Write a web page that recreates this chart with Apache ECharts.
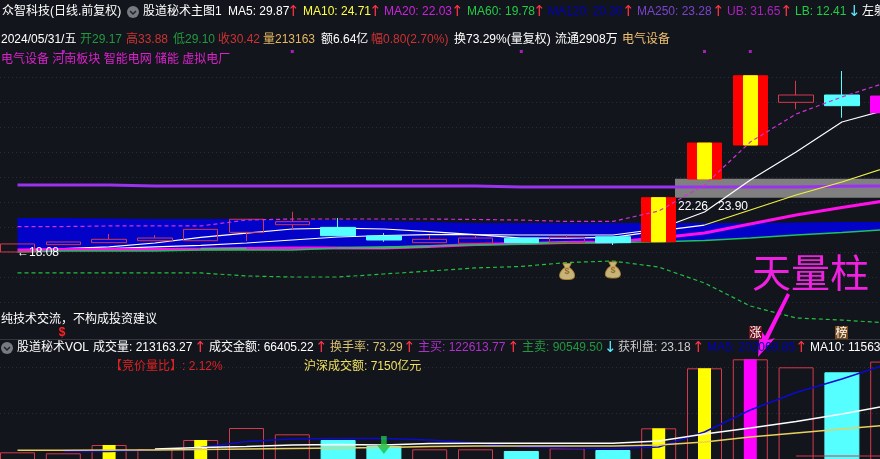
<!DOCTYPE html>
<html><head><meta charset="utf-8">
<style>html,body{margin:0;padding:0;background:#13151d;overflow:hidden}#c{width:880px;height:459px}</style>
<script src="https://cdn.jsdelivr.net/npm/echarts@6/dist/echarts.min.js"></script>
</head><body><div id="c"></div>
<script>
const categories=['05/06','05/07','05/08','05/09','05/10','05/13','05/14','05/15','05/16','05/17','05/20','05/21','05/22','05/23','05/24','05/27','05/28','05/29','05/30','05/31'];
const opens =[17.59,18.22,18.39,18.56,18.56,19.28,19.94,19.71,18.97,18.39,18.34,18.77,18.39,18.90,18.47,23.88,26.81,30.49,31.12,29.59];
const closes=[18.28,18.45,18.68,18.79,19.54,20.41,20.20,18.99,18.62,18.68,18.79,18.39,18.85,18.39,22.27,26.98,32.78,31.12,30.20,31.03];
const lows  =[17.59,18.22,18.39,18.56,18.56,18.53,19.54,18.99,18.47,18.39,18.34,18.39,18.39,18.19,18.47,23.88,26.81,29.89,29.16,29.59];
const highs =[18.28,18.45,19.14,19.05,19.54,20.41,21.06,20.52,19.22,19.05,19.05,18.77,19.05,18.90,22.27,26.98,32.78,32.35,33.19,31.03];
const limitUpDays=[14,15,16];
const bandHigh=[20.52,20.52,20.47,20.43,20.43,20.43,20.34,20.34,20.26,20.17,20.09,20.09,20.09,20.09,20.09,20.09,20.09,20.13,20.17,20.17];
const bandLow =[17.59,17.67,17.67,17.67,17.76,17.76,17.76,17.93,18.02,18.10,18.19,18.28,18.36,18.40,18.47,18.58,18.79,19.05,19.27,19.53];
const ma250=[23.36,23.36,23.36,23.28,23.28,23.28,23.28,23.28,23.28,23.28,23.28,23.19,23.19,23.19,23.19,23.19,23.19,23.19,23.25,23.28];
const ma5=[null,17.89,18.02,18.36,18.84,19.22,19.57,19.65,19.57,19.35,19.09,19.05,19.05,19.05,19.57,21.03,23.79,26.21,28.79,29.87];
const ma10=[null,null,17.89,18.02,18.15,18.36,18.62,18.88,19.01,19.09,19.09,18.79,18.79,18.84,19.40,19.91,null,null,null,null];
const ma10Up=[null,null,null,null,null,null,null,null,null,null,null,null,null,null,null,19.91,21.21,22.50,23.62,24.91];
const ma20=[17.76,17.80,17.80,17.80,17.84,17.89,17.93,17.93,17.93,18.06,18.23,18.32,18.40,18.45,18.80,19.22,20.00,20.77,21.42,22.03];
const ma20Flat=[null,null,null,null,17.84,17.89,null,17.93,17.93,18.06,null,18.32,18.40,null,null,null,null,null,null,null];
const ub=[19.78,19.78,19.83,19.83,19.83,20.34,20.43,20.43,20.43,20.43,20.39,20.34,20.22,20.22,21.12,23.36,27.07,29.48,30.95,32.24];
const lb=[15.78,15.78,15.78,15.78,15.78,15.52,15.43,15.43,15.69,15.95,16.21,16.34,16.68,16.81,16.29,14.91,12.93,11.90,11.72,11.47];
const dotDays=[1,6,11,15,16];
const bagDays=[[12,15.90],[13,16.03]];
const grayLow=22.26, grayHigh=23.90;
const volumes=[49860,48060,63000,55800,72000,93600,82260,72000,61200,55260,55260,52200,57060,54000,93060,201060,217260,202860,193860,213163];
const innerYellow=[null,null,63000,null,72000,null,null,null,null,null,null,null,null,null,93060,201060,null,null,null,null];
const innerMagenta=[null,null,null,null,null,null,null,null,null,null,null,null,null,null,null,null,217260,null,null,null];
const volMa5=[null,51300,51300,54000,58500,69300,73800,74700,74700,72000,66600,59400,57600,56700,59400,86400,126000,157500,181800,208800];
const volMa10=[null,null,null,55800,58500,60300,63000,63900,63000,65700,66060,66060,66060,66060,70200,82800,93600,105300,118800,134100];
const volMa20=[53460,53460,54000,54000,54900,55800,56700,57600,58500,60300,61200,61200,61200,61200,63000,68400,77400,84600,91800,99000];
const volFloor=[null,null,null,null,null,null,null,null,null,null,null,null,null,null,null,null,null,43200,43200,43200];
const downArrowDay=[8,63000];

const CJK='"Liberation Sans","Noto Sans CJK SC",sans-serif';
const R='#ff3344',C='#55eeff';
const texts=[
['众智科技(日线.前复权)',2,12,'#fff'],['股道秘术主图1',143,12,'#fff'],
['MA5: 29.87',228,12,'#fff'],['↑',287,12,R],
['MA10: 24.71',303,12,'#ffff44'],['↑',369,12,R],
['MA20: 22.03',384,12,'#cc22dd'],['↑',451,12,R],
['MA60: 19.78',467,12,'#22cc44'],['↑',533,12,R],
['MA120: 20.30',548,12,'#0000bb'],['↑',622,12,R],
['MA250: 23.28',637,12,'#7a44cc'],['↑',712,12,R],
['UB: 31.65',727,12,'#aa22bb'],['↑',780,12,R],
['LB: 12.41',795,12,'#22cc44'],['↓',848,12,C],
['左射',862,12,'#fff'],
['2024/05/31/五',1,40,'#fff'],['开29.17',80,40,'#22993f'],['高33.88',126,40,'#cc3333'],['低29.10',173,40,'#22993f'],['收30.42',218,40,'#cc3333'],
['量213163',263,40,'#e8b860'],['额6.64亿',321,40,'#fff'],['幅0.80(2.70%)',371,40,'#cc3333'],['换73.29%(量复权)',454,40,'#fff'],['流通2908万',555,40,'#fff'],['电气设备',622,40,'#f0c070'],
['电气设备 河南板块 智能电网 储能 虚拟电厂',1,60,'#dd22cc'],
['←18.08',17,253,'#fff'],['22.26',678,207,'#fff'],['23.90',718,207,'#fff'],
['纯技术交流，不构成投资建议',1,320,'#fff'],
['股道秘术VOL',17,348,'#fff'],['成交量: 213163.27',93,348,'#fff'],['↑',194,348,R],
['成交金额: 66405.22',209,348,'#fff'],['↑',315,348,R],
['换手率: 73.29',330,348,'#d9c070'],['↑',403,348,R],
['主买: 122613.77',418,348,'#b030cc'],['↑',507,348,R],
['主卖: 90549.50',522,348,'#22993f'],['↓',604,348,C],
['获利盘: 23.18',618,348,'#cccccc'],['↑',692,348,R],
['MA5: 202069.85',707,348,'#0000bb'],['↑',795,348,R],
['MA10: 115630',810,348,'#fff'],
['【竞价量比】: 2.12%',110,367,'#dd2222'],['沪深成交额: 7150亿元',304,367,'#f0e060']
];
const graphic=texts.map(t=>({type:'text',x:t[1],y:t[2],z:100,silent:true,style:{text:t[0],fill:t[3],font:(t[0]==='↑'||t[0]==='↓')?'15px "DejaVu Sans"':'12px '+CJK,textVerticalAlign:'middle'}}));
function icon(cx,cy){return [
 {type:'circle',z:100,silent:true,shape:{cx,cy,r:6},style:{fill:'#777a80'}},
 {type:'polyline',z:101,silent:true,shape:{points:[[cx-3,cy-1],[cx,cy+2],[cx+3,cy-1]]},style:{stroke:'#222',lineWidth:1.5,fill:null}}];}
graphic.push(...icon(133,12),...icon(7,348));
graphic.push({type:'line',z:50,silent:true,shape:{x1:0,y1:339.5,x2:880,y2:339.5},style:{stroke:'#34363e',lineWidth:1}});
graphic.push({type:'text',x:752,y:272,z:100,silent:true,style:{text:'天量柱',fill:'#f020e0',font:'39px "Noto Sans CJK SC",sans-serif',textVerticalAlign:'middle'}});
graphic.push({type:'polygon',z:99,silent:true,shape:{points:[[787,293],[790,295],[768,340],[775,338],[758,357],[760,329],[765,336]]},style:{fill:'#ff10f0'}});
graphic.push({type:'rect',z:99,silent:true,shape:{x:749,y:326,width:13,height:13},style:{fill:'#70101c'}});
graphic.push({type:'text',x:755.5,y:332.5,z:100,silent:true,style:{text:'涨',fill:'#fff',font:'12px "Noto Sans CJK SC"',textAlign:'center',textVerticalAlign:'middle'}});
graphic.push({type:'rect',z:99,silent:true,shape:{x:835,y:326,width:13,height:13},style:{fill:'#7a4a18'}});
graphic.push({type:'text',x:841.5,y:332.5,z:100,silent:true,style:{text:'榜',fill:'#fff',font:'12px "Noto Sans CJK SC"',textAlign:'center',textVerticalAlign:'middle'}});
graphic.push({type:'text',x:62,y:333,z:100,silent:true,style:{text:'$',fill:'#ff2222',font:'bold 12px "Liberation Sans"',textAlign:'center',textVerticalAlign:'middle'}});

const line=(name,data,color,width,extra)=>Object.assign({name,type:'line',data,symbol:'none',xAxisIndex:0,yAxisIndex:0,z:2,lineStyle:{color,width},itemStyle:{color},animation:false,silent:true},extra||{});
const vline=(name,data,color,width)=>line(name,data,color,width,{xAxisIndex:1,yAxisIndex:1,z:5});
const gridAxis=(gi)=>({type:'value',gridIndex:gi,min:0,max:gi===2?9:1,interval:1,axisLine:{show:false},axisTick:{show:false},axisLabel:{show:false},splitLine:{show:true,lineStyle:{color:'#2b2d36',type:[1,3],width:1}}});
const hiddenX=(gi)=>({type:'category',gridIndex:gi,data:categories,boundaryGap:true,show:false});

const candleData=categories.map((_,i)=>{
  const v=[opens[i],closes[i],lows[i],highs[i]];
  if(limitUpDays.includes(i)) return {value:v,itemStyle:{color:'#ff0000',borderColor:'#ff0000'}};
  if(i===19) return {value:v,itemStyle:{color:'#ff00ff',borderColor:'#ff00ff'}};
  return v;
});
const innerCandle=categories.map((_,i)=>limitUpDays.includes(i)?[opens[i],closes[i],lows[i],highs[i]]:['-','-','-','-']);
const volData=volumes.map((v,i)=>closes[i]<opens[i]?{value:v,itemStyle:{color:'#55ffff',borderColor:'#55ffff'}}:v);

const series=[
 {name:'bandBase',type:'line',stack:'band',z:1,data:bandLow,symbol:'none',lineStyle:{width:0},silent:true},
 {name:'band',type:'line',stack:'band',z:1,data:bandHigh.map((v,i)=>+(v-bandLow[i]).toFixed(2)),symbol:'none',lineStyle:{width:0},areaStyle:{color:'#0202c8',opacity:1},silent:true,
  markArea:{silent:true,itemStyle:{color:'#808080',opacity:1},data:[[{x:675,yAxis:grayHigh},{x:880,yAxis:grayLow}]]}},
 line('MA250',ma250,'#9933ee',3),
 line('MA5',ma5,'#ffffff',1.2),
 line('MA10',ma10,'#ffffff',1.2),
 line('MA10up',ma10Up,'#f0f040',1.2),
 line('MA20',ma20,'#ff10e8',3),
 line('MA20flat',ma20Flat,'#8a8a90',2),
 line('MA60',bandLow,'#20c060',1.5),
 {name:'K',type:'candlestick',z:3,data:candleData,barWidth:35,itemStyle:{color:'rgba(0,0,0,0)',color0:'#55ffff',borderColor:'#d43a4c',borderColor0:'#55ffff',borderWidth:1},silent:true},
 {name:'Kinner',type:'candlestick',z:4,data:innerCandle,barWidth:15,itemStyle:{color:'#ffff00',borderColor:'#ffff00',color0:'#ffff00',borderColor0:'#ffff00',borderWidth:1},silent:true},
 line('UB',ub,'#d030d8',1.2,{z:5,lineStyle:{color:'#d030d8',width:1.2,type:[4,3]}}),
 line('LB',lb,'#22c040',1.2,{z:5,lineStyle:{color:'#22c040',width:1.2,type:[4,3]}}),
 {name:'dots',type:'scatter',z:5,data:dotDays.map(d=>[d,34.87]),symbol:'rect',symbolSize:3,itemStyle:{color:'#cc22dd'},silent:true},
 {name:'bags',type:'scatter',z:5,data:bagDays,symbol:'path://M4 0 L12 0 L10 4 C15 7 16 12 15 14 C14 17 2 17 1 14 C0 12 1 7 6 4 Z',symbolSize:[15,16],itemStyle:{color:'#f5dc94',borderColor:'#b88a2c',borderWidth:1},
  label:{show:true,position:'inside',formatter:'$',color:'#8a5a10',fontSize:9,fontWeight:'bold',fontFamily:'Liberation Sans'},silent:true},
 {name:'vol',type:'bar',z:3,xAxisIndex:1,yAxisIndex:1,data:volData,barWidth:35,itemStyle:{color:'rgba(0,0,0,0)',borderColor:'#d43a4c',borderWidth:1},silent:true},
 {name:'volY',type:'bar',z:3,xAxisIndex:2,yAxisIndex:1,data:innerYellow,barWidth:13,itemStyle:{color:'#ffff00'},silent:true},
 {name:'volM',type:'bar',z:3,xAxisIndex:2,yAxisIndex:1,data:innerMagenta,barWidth:13,barGap:'-100%',itemStyle:{color:'#ff00ff'},silent:true},
 vline('volMA5',volMa5,'#0a0ad0',1.5),
 vline('volMA10',volMa10,'#ffffff',1.5),
 vline('volMA20',volMa20,'#e8d060',1.5),
 vline('volFloor',volFloor,'#d43a4c',1),
 {name:'signal',type:'scatter',z:6,xAxisIndex:1,yAxisIndex:1,data:[downArrowDay],symbol:'path://M3 0 H7 V7 H10 L5 14 L0 7 H3 Z',symbolSize:[14,18],itemStyle:{color:'#22c040'},silent:true}
];
series.forEach(s=>{if(s.xAxisIndex===undefined){s.xAxisIndex=0;s.yAxisIndex=0;}s.animation=false;});
const chart=echarts.init(document.getElementById('c'),null,{renderer:'canvas'});
chart.setOption({
 backgroundColor:'#13151d',animation:false,tooltip:{show:false},
 grid:[
  {left:-5.4,top:50,width:916,height:290,outerBoundsMode:'none'},
  {left:-5.4,top:340,width:916,height:140,outerBoundsMode:'none'},
  {left:0,top:77,width:880,height:225,outerBoundsMode:'none'},
  {left:0,top:367,width:880,height:46,outerBoundsMode:'none'}
 ],
 xAxis:[hiddenX(0),hiddenX(1),hiddenX(1),hiddenX(2),hiddenX(3)],
 yAxis:[
  {type:'value',gridIndex:0,min:10,max:35,show:false},
  {type:'value',gridIndex:1,min:0,max:252000,show:false},
  gridAxis(2),gridAxis(3)
 ],
 series:series.concat([
  {type:'line',xAxisIndex:3,yAxisIndex:2,data:[],silent:true},
  {type:'line',xAxisIndex:4,yAxisIndex:3,data:[],silent:true}
 ]),
 graphic:{elements:graphic}
});
</script></body></html>
